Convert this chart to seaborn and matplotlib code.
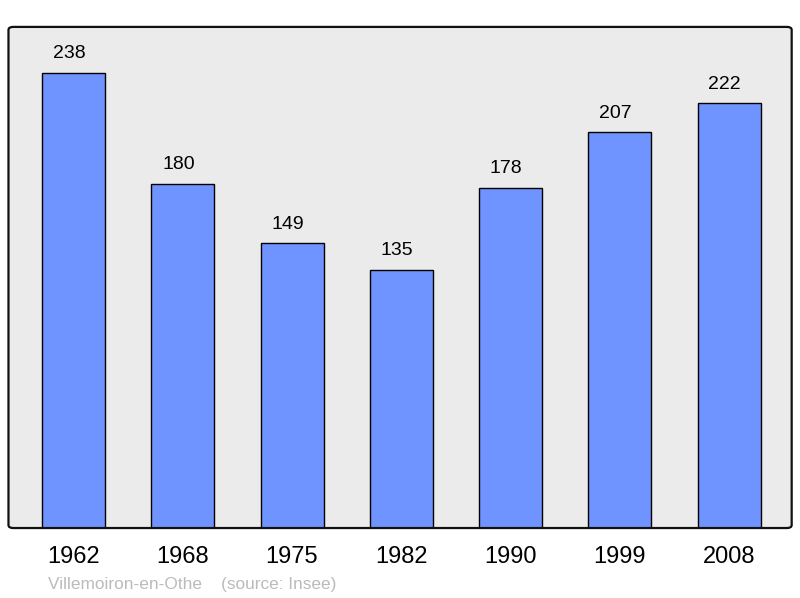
import matplotlib
matplotlib.use("Agg")
import matplotlib.pyplot as plt
import seaborn as sns
from matplotlib.patches import FancyBboxPatch

# data
years = ["1962", "1968", "1975", "1982", "1990", "1999", "2008"]
population = [238, 180, 149, 135, 178, 207, 222]
town = "Villemoiron-en-Othe"
source = "(source: Insee)"

sns.set_style("white")
plt.rcParams["font.family"] = ["Liberation Sans", "DejaVu Sans"]

fig = plt.figure(figsize=(8, 5.98), dpi=100)
ax = fig.add_axes([0.0106, 0.117, 0.979, 0.838])
ax.set_facecolor("#ebebeb")

sns.barplot(x=years, y=population, color="#7094ff", saturation=1,
            width=0.576, edgecolor="black", linewidth=1.0, ax=ax, zorder=2)

# value labels, a touch left of bar centre like the original
for i, v in enumerate(population):
    ax.text(i - 0.04, v + 5.5, str(v), ha="center", va="bottom", fontsize=14, color="black")

ax.set_xlim(-0.595, 6.572)
ax.set_ylim(0, 262)
ax.set_yticks([])
ax.set_xlabel("")
ax.set_ylabel("")
ax.tick_params(axis="x", length=0, labelsize=17, pad=13, labelcolor="black")
for s in ax.spines.values():
    s.set_visible(False)

# rounded frame around the plot area
frame = FancyBboxPatch((0, 0), 1, 1, boxstyle="round,pad=0,rounding_size=0.006",
                       transform=ax.transAxes, facecolor="none",
                       edgecolor="#111111", linewidth=1.6, clip_on=False, zorder=5)
ax.add_patch(frame)

fig.text(48 / 800, 1 - 585 / 598, town + "    " + source, fontsize=12.4,
         color="#bbbbbb", ha="left", va="center")

fig.savefig("out.png", dpi=100)
